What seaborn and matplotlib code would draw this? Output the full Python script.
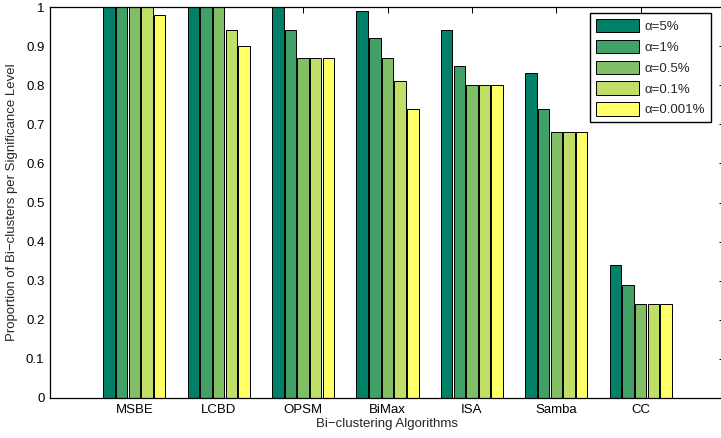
import matplotlib
matplotlib.use("Agg")
import matplotlib.pyplot as plt
import seaborn as sns
import pandas as pd

# valeurs
algoritmos = ["MSBE", "LCBD", "OPSM", "BiMax", "ISA", "Samba", "CC"]
niveis = ["α=5%", "α=1%", "α=0.5%", "α=0.1%", "α=0.001%"]
prop_5 = [1.00, 1.00, 1.00, 0.99, 0.94, 0.83, 0.34]
prop_1 = [1.00, 1.00, 0.94, 0.92, 0.85, 0.74, 0.29]
prop_05 = [1.00, 1.00, 0.87, 0.87, 0.80, 0.68, 0.24]
prop_01 = [1.00, 0.94, 0.87, 0.81, 0.80, 0.68, 0.24]
prop_0001 = [0.98, 0.90, 0.87, 0.74, 0.80, 0.68, 0.24]
cores = ["#008066", "#40A066", "#80BF66", "#BFDF66", "#FFFF66"]

series = [prop_5, prop_1, prop_05, prop_01, prop_0001]
linhas = []
for nivel, vals in zip(niveis, series):
    for alg, v in zip(algoritmos, vals):
        linhas.append({"Algoritmo": alg, "Nivel": nivel, "Prop": v})
df = pd.DataFrame(linhas)

sns.set_style("white")
plt.rcParams["font.family"] = ["Liberation Sans", "DejaVu Sans"]

fig = plt.figure(figsize=(7.21, 4.38), dpi=100)
ax = fig.add_axes([50 / 721, 40 / 438, 675 / 721, 391 / 438])

sns.barplot(data=df, x="Algoritmo", y="Prop", hue="Nivel", palette=cores,
            saturation=1, width=0.75, gap=0.1, edgecolor="black",
            linewidth=0.7, ax=ax)

ax.set_xlim(-1, 7)
ax.set_ylim(0, 1)
ax.set_yticks([i / 10 for i in range(11)])
ax.set_yticklabels(["0"] + [f"{i/10:.1f}" for i in range(1, 10)] + ["1"])
ax.tick_params(direction="in", length=4, width=0.7, top=True, right=True,
               labelsize=9.5, colors="black", pad=4)
for s in ax.spines.values():
    s.set_visible(True)
    s.set_color("black")
    s.set_linewidth(0.9)

ax.set_xlabel("Bi\u2212clustering Algorithms", fontsize=9.5, labelpad=2)
ax.set_ylabel("Proportion of Bi\u2212clusters per Significance Level", fontsize=9.5, labelpad=6)
ax.grid(False)

leg = ax.legend(loc="upper right", bbox_to_anchor=(711 / 721, 1 - 13 / 438),
                bbox_transform=fig.transFigure, borderaxespad=0, fancybox=False,
                edgecolor="black", fontsize=9.5, title=None, handlelength=3.3,
                handleheight=1.2, labelspacing=0.5, borderpad=0.45, handletextpad=0.4)
leg.get_frame().set_linewidth(1.0)
leg.get_frame().set_alpha(1)

fig.savefig("out.png", dpi=100)
